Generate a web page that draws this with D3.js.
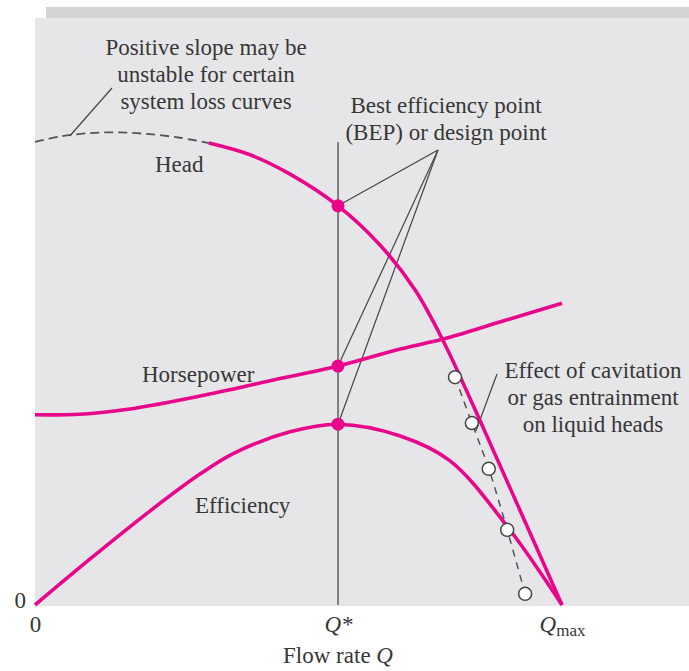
<!DOCTYPE html>
<meta charset="utf-8">
<style>
body { margin: 0; background: #fff; }
svg text { font-family: "Liberation Serif", "Times New Roman", serif; fill: #363636; }
</style>
<body>
<script src="https://cdn.jsdelivr.net/npm/d3@7"></script>
<script>

// pump performance curves (Q and values in % of full scale)
var headUnstableQ = [0, 4.7, 10.4, 16.1, 21.8, 27.5, 33.0];
var headUnstableH = [78.9, 79.8, 80.4, 80.5, 80.2, 79.6, 78.7];
var headQ = [33.0, 40.8, 48.4, 57.5, 65.5, 72.1, 77.4, 84.4, 92.0, 100];
var headH = [78.7, 76.7, 73.4, 68.0, 61.3, 53.7, 45.1, 31.5, 16.2, 0];
var powerQ = [0, 8.5, 18.0, 31.3, 44.6, 57.5, 69.3, 77.4, 88.2, 100];
var powerP = [32.4, 32.5, 33.4, 35.6, 38.2, 40.7, 43.6, 45.3, 48.2, 51.4];
var effQ = [0, 10.4, 21.8, 31.3, 37.6, 48.4, 57.5, 69.3, 78.7, 89.6, 100];
var effE = [0, 7.8, 16.0, 22.3, 25.8, 29.5, 30.8, 28.8, 24.6, 13.4, 0];
var cavQ = [79.7, 82.9, 86.1, 89.6, 93.0];
var cavH = [38.8, 31.0, 23.2, 12.8, 1.9];
var qStar = 57.5, qMax = 100;
var bepValues = [68.0, 40.7, 30.8];   // head, horsepower, efficiency at Q*
var xTicks = [0, qStar, qMax];
var xTickLabels = ["0", "Q*", "Qmax"];

var width = 689, height = 671;
var pink = "#e8078a", ink = "#444";

var svg = d3.select("body").append("svg")
    .attr("width", width)
    .attr("height", height);

var x = d3.scaleLinear().domain([0, 100]).range([35, 562]);
var y = d3.scaleLinear().domain([0, 100]).range([605, 18]);

// background panels
svg.append("rect").attr("x", 46).attr("y", 7).attr("width", width - 46).attr("height", 12)
    .attr("fill", "#d3d3d5");
svg.append("rect").attr("x", 35).attr("y", 18).attr("width", width - 35).attr("height", 588)
    .attr("fill", "#e6e6e8");

function pts(qs, vs) { return qs.map(function(q, i) { return [q, vs[i]]; }); }

var line = d3.line()
    .x(function(d) { return x(d[0]); })
    .y(function(d) { return y(d[1]); })
    .curve(d3.curveCatmullRom.alpha(0.5));

// Q* reference line
svg.append("line")
    .attr("x1", x(qStar)).attr("x2", x(qStar))
    .attr("y1", 142).attr("y2", y(0))
    .attr("stroke", "#555").attr("stroke-width", 1.4);

// dashed unstable part of the head curve
svg.append("path")
    .attr("d", line(pts(headUnstableQ, headUnstableH)))
    .attr("fill", "none").attr("stroke", "#555")
    .attr("stroke-width", 1.8).attr("stroke-dasharray", "9,5");

// cavitation dashed curve
svg.append("path")
    .attr("d", line(pts(cavQ, cavH)))
    .attr("fill", "none").attr("stroke", "#555")
    .attr("stroke-width", 1.5).attr("stroke-dasharray", "7,6");

// leader lines
function leader(x1, y1, x2, y2) {
  svg.append("line").attr("x1", x1).attr("y1", y1).attr("x2", x2).attr("y2", y2)
      .attr("stroke", ink).attr("stroke-width", 1.2);
}
leader(x(headUnstableQ[1]) + 10, y(79.9), 112, 88);
bepValues.forEach(function(v) { leader(438, 150, x(qStar), y(v)); });
leader(497, 374, x(cavQ[1]) + 4, y(cavH[1]) + 8);

// main curves
[pts(headQ, headH), pts(powerQ, powerP), pts(effQ, effE)].forEach(function(d) {
  svg.append("path")
      .attr("d", line(d))
      .attr("fill", "none").attr("stroke", pink)
      .attr("stroke-width", 3.6).attr("stroke-linejoin", "round");
});

// cavitation points
svg.selectAll("circle.cav")
    .data(pts(cavQ, cavH))
    .enter().append("circle")
    .attr("class", "cav")
    .attr("cx", function(d) { return x(d[0]); })
    .attr("cy", function(d) { return y(d[1]); })
    .attr("r", 6.5)
    .attr("fill", "#fff").attr("stroke", ink).attr("stroke-width", 1.5);

// BEP dots
svg.selectAll("circle.bep")
    .data(bepValues)
    .enter().append("circle")
    .attr("class", "bep")
    .attr("cx", x(qStar))
    .attr("cy", function(d) { return y(d); })
    .attr("r", 6.5)
    .attr("fill", pink);

// axes (labels only)
var xAxis = svg.append("g")
    .attr("transform", "translate(0," + y(0) + ")")
    .call(d3.axisBottom(x).tickValues(xTicks).tickSize(0).tickPadding(11)
      .tickFormat(function(d, i) { return xTickLabels[i]; }));
xAxis.select(".domain").remove();
xAxis.selectAll("text")
    .attr("font-size", 23).attr("font-family", null).attr("fill", null)
    .each(function(d, i) {
      var t = d3.select(this), s = xTickLabels[i];
      if (s.charAt(0) !== "Q") return;
      t.text(null);
      t.append("tspan").attr("font-style", "italic").text("Q");
      if (s === "Q*") t.append("tspan").attr("font-style", "italic").text("*");
      else t.append("tspan").attr("font-size", 17).attr("dy", 4).text(s.slice(1));
    });

var yAxis = svg.append("g")
    .attr("transform", "translate(" + x(0) + ",0)")
    .call(d3.axisLeft(y).tickValues([0]).tickSize(0).tickPadding(9));
yAxis.select(".domain").remove();
yAxis.selectAll("text").attr("font-size", 23).attr("font-family", null).attr("fill", null)
    .attr("dy", "0.1em");

var title = svg.append("text").attr("x", x(qStar)).attr("y", 663)
    .attr("text-anchor", "middle").attr("font-size", 23);
title.append("tspan").text("Flow rate ");
title.append("tspan").attr("font-style", "italic").text("Q");

// annotations
function label(lines, cx, y0, anchor) {
  var t = svg.append("text").attr("font-size", 23).attr("text-anchor", anchor || "middle");
  lines.forEach(function(s, i) {
    t.append("tspan").attr("x", cx).attr("y", y0 + i * 27).text(s);
  });
}
label(["Positive slope may be", "unstable for certain", "system loss curves"], 206, 55);
label(["Best efficiency point", "(BEP) or design point"], 446, 113);
label(["Effect of cavitation", "or gas entrainment", "on liquid heads"], 593, 378);
label(["Head"], 155, 172, "start");
label(["Horsepower"], 142, 382, "start");
label(["Efficiency"], 195, 513, "start");

</script>
</body>
